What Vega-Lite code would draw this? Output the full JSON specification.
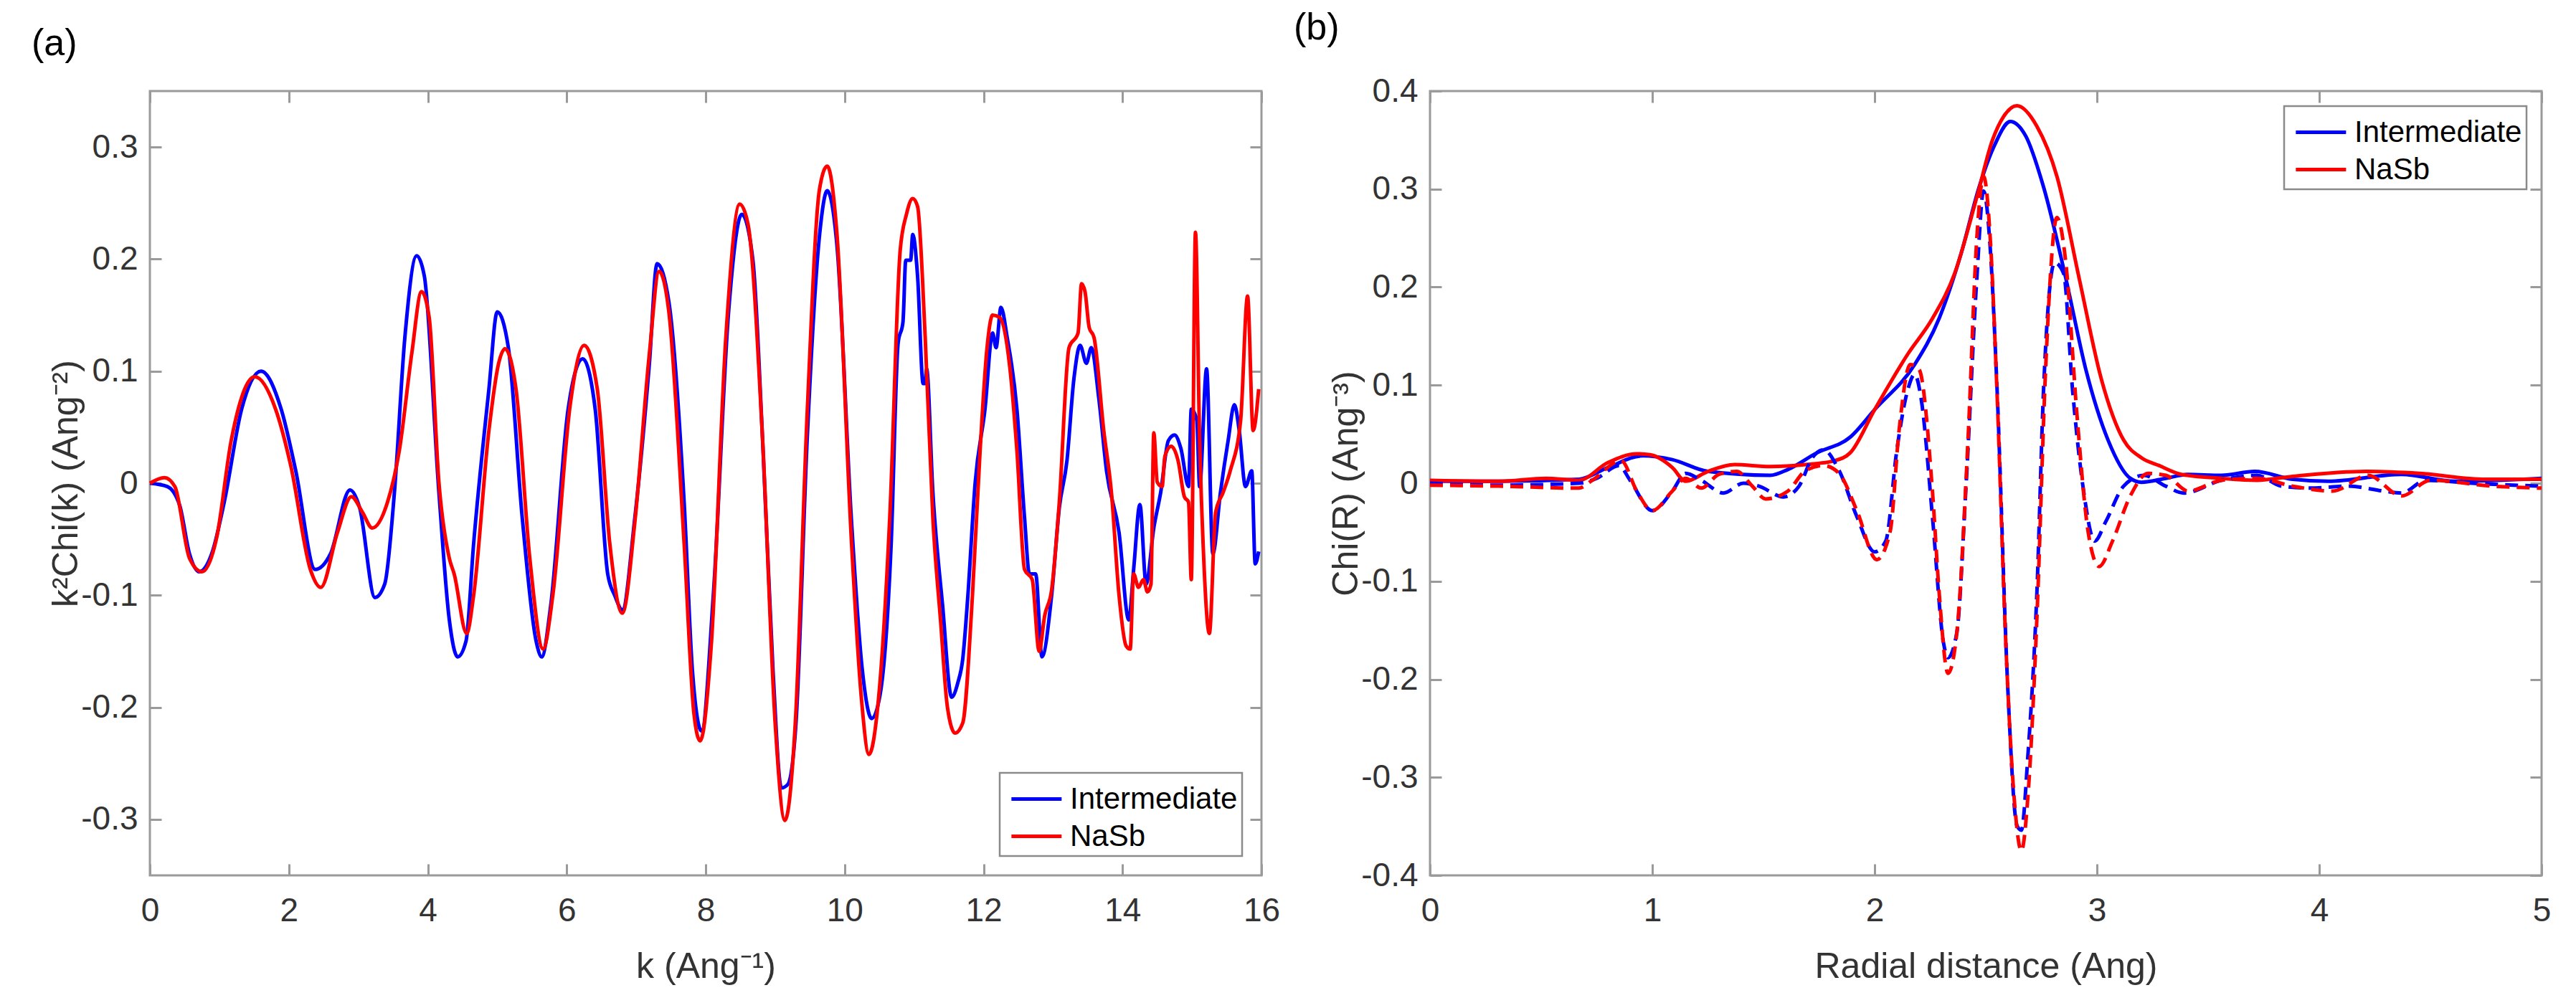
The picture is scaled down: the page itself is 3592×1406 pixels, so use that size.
{
  "$schema": "https://vega.github.io/schema/vega-lite/v6.json",
  "padding": {"left": 42, "top": 11, "right": 0, "bottom": 0},
  "background": "white",
  "bounds": "flush",
  "spacing": 235,
  "config": {
    "font": "Liberation Sans",
    "view": {"stroke": "#9a9a9a", "strokeWidth": 3},
    "axis": {
      "domain": false, "grid": false, "ticks": true, "tickSize": -16, "tickColor": "#9a9a9a", "tickWidth": 3,
      "labelFontSize": 46, "labelColor": "#333333", "labelFont": "Liberation Sans", "labelOverlap": false, "labelFlush": false,
      "titleFontSize": 50, "titleColor": "#333333", "titleFont": "Liberation Sans", "titleFontWeight": "normal"
    },
    "axisX": {"labelPadding": 43, "titlePadding": 30},
    "axisY": {"labelPadding": 33, "titlePadding": -5},
    "title": {"fontSize": 52, "font": "Liberation Sans", "fontWeight": "normal", "color": "#000000", "anchor": "start", "frame": "group", "baseline": "alphabetic", "offset": 38},
    "legend": {"labelFontSize": 42, "labelColor": "#000000", "labelFont": "Liberation Sans", "labelLimit": 400, "strokeColor": "#8a8a8a", "fillColor": "#ffffff", "strokeWidth": 2.5}
  },
  "datasets": {
    "kdata": [
      {"k":0,"v":0,"s":"Intermediate"},{"k":0.25,"v":-0.003,"s":"Intermediate"},{"k":0.43,"v":-0.02,"s":"Intermediate"},{"k":0.57,"v":-0.063,"s":"Intermediate"},{"k":0.71,"v":-0.079,"s":"Intermediate"},{"k":0.89,"v":-0.063,"s":"Intermediate"},{"k":1.07,"v":-0.017,"s":"Intermediate"},{"k":1.32,"v":0.066,"s":"Intermediate"},{"k":1.6,"v":0.1,"s":"Intermediate"},{"k":1.89,"v":0.066,"s":"Intermediate"},{"k":2.1,"v":0.011,"s":"Intermediate"},{"k":2.38,"v":-0.077,"s":"Intermediate"},{"k":2.6,"v":-0.063,"s":"Intermediate"},{"k":2.88,"v":-0.006,"s":"Intermediate"},{"k":3.02,"v":-0.022,"s":"Intermediate"},{"k":3.24,"v":-0.102,"s":"Intermediate"},{"k":3.38,"v":-0.09,"s":"Intermediate"},{"k":3.52,"v":-0.008,"s":"Intermediate"},{"k":3.67,"v":0.13,"s":"Intermediate"},{"k":3.84,"v":0.203,"s":"Intermediate"},{"k":3.95,"v":0.185,"s":"Intermediate"},{"k":4.16,"v":-0.008,"s":"Intermediate"},{"k":4.31,"v":-0.122,"s":"Intermediate"},{"k":4.43,"v":-0.155,"s":"Intermediate"},{"k":4.55,"v":-0.141,"s":"Intermediate"},{"k":4.66,"v":-0.054,"s":"Intermediate"},{"k":4.88,"v":0.084,"s":"Intermediate"},{"k":5.0,"v":0.153,"s":"Intermediate"},{"k":5.16,"v":0.121,"s":"Intermediate"},{"k":5.36,"v":-0.031,"s":"Intermediate"},{"k":5.56,"v":-0.141,"s":"Intermediate"},{"k":5.64,"v":-0.155,"s":"Intermediate"},{"k":5.77,"v":-0.109,"s":"Intermediate"},{"k":6.02,"v":0.066,"s":"Intermediate"},{"k":6.23,"v":0.111,"s":"Intermediate"},{"k":6.41,"v":0.066,"s":"Intermediate"},{"k":6.59,"v":-0.081,"s":"Intermediate"},{"k":6.69,"v":-0.1,"s":"Intermediate"},{"k":6.8,"v":-0.113,"s":"Intermediate"},{"k":6.98,"v":-0.031,"s":"Intermediate"},{"k":7.19,"v":0.107,"s":"Intermediate"},{"k":7.3,"v":0.196,"s":"Intermediate"},{"k":7.47,"v":0.162,"s":"Intermediate"},{"k":7.69,"v":-0.017,"s":"Intermediate"},{"k":7.81,"v":-0.168,"s":"Intermediate"},{"k":7.94,"v":-0.221,"s":"Intermediate"},{"k":8.11,"v":-0.1,"s":"Intermediate"},{"k":8.33,"v":0.153,"s":"Intermediate"},{"k":8.52,"v":0.24,"s":"Intermediate"},{"k":8.68,"v":0.199,"s":"Intermediate"},{"k":8.82,"v":0.038,"s":"Intermediate"},{"k":8.97,"v":-0.168,"s":"Intermediate"},{"k":9.09,"v":-0.272,"s":"Intermediate"},{"k":9.18,"v":-0.269,"s":"Intermediate"},{"k":9.3,"v":-0.214,"s":"Intermediate"},{"k":9.46,"v":0.038,"s":"Intermediate"},{"k":9.64,"v":0.222,"s":"Intermediate"},{"k":9.75,"v":0.261,"s":"Intermediate"},{"k":9.89,"v":0.212,"s":"Intermediate"},{"k":10.1,"v":-0.035,"s":"Intermediate"},{"k":10.25,"v":-0.164,"s":"Intermediate"},{"k":10.39,"v":-0.21,"s":"Intermediate"},{"k":10.51,"v":-0.189,"s":"Intermediate"},{"k":10.67,"v":-0.054,"s":"Intermediate"},{"k":10.77,"v":0.125,"s":"Intermediate"},{"k":10.84,"v":0.144,"s":"Intermediate"},{"k":10.88,"v":0.199,"s":"Intermediate"},{"k":10.95,"v":0.199,"s":"Intermediate"},{"k":10.98,"v":0.222,"s":"Intermediate"},{"k":11.05,"v":0.185,"s":"Intermediate"},{"k":11.13,"v":0.089,"s":"Intermediate"},{"k":11.16,"v":0.089,"s":"Intermediate"},{"k":11.18,"v":0.102,"s":"Intermediate"},{"k":11.27,"v":-0.008,"s":"Intermediate"},{"k":11.41,"v":-0.109,"s":"Intermediate"},{"k":11.54,"v":-0.191,"s":"Intermediate"},{"k":11.63,"v":-0.178,"s":"Intermediate"},{"k":11.7,"v":-0.157,"s":"Intermediate"},{"k":11.77,"v":-0.104,"s":"Intermediate"},{"k":11.88,"v":0.001,"s":"Intermediate"},{"k":12.02,"v":0.066,"s":"Intermediate"},{"k":12.13,"v":0.134,"s":"Intermediate"},{"k":12.18,"v":0.121,"s":"Intermediate"},{"k":12.25,"v":0.157,"s":"Intermediate"},{"k":12.34,"v":0.13,"s":"Intermediate"},{"k":12.48,"v":0.066,"s":"Intermediate"},{"k":12.59,"v":-0.031,"s":"Intermediate"},{"k":12.66,"v":-0.081,"s":"Intermediate"},{"k":12.75,"v":-0.081,"s":"Intermediate"},{"k":12.84,"v":-0.155,"s":"Intermediate"},{"k":12.98,"v":-0.1,"s":"Intermediate"},{"k":13.09,"v":-0.022,"s":"Intermediate"},{"k":13.2,"v":0.02,"s":"Intermediate"},{"k":13.3,"v":0.093,"s":"Intermediate"},{"k":13.39,"v":0.123,"s":"Intermediate"},{"k":13.48,"v":0.107,"s":"Intermediate"},{"k":13.55,"v":0.121,"s":"Intermediate"},{"k":13.66,"v":0.075,"s":"Intermediate"},{"k":13.77,"v":0.011,"s":"Intermediate"},{"k":13.95,"v":-0.044,"s":"Intermediate"},{"k":14.09,"v":-0.122,"s":"Intermediate"},{"k":14.16,"v":-0.077,"s":"Intermediate"},{"k":14.25,"v":-0.019,"s":"Intermediate"},{"k":14.34,"v":-0.09,"s":"Intermediate"},{"k":14.45,"v":-0.04,"s":"Intermediate"},{"k":14.55,"v":-0.008,"s":"Intermediate"},{"k":14.66,"v":0.038,"s":"Intermediate"},{"k":14.75,"v":0.043,"s":"Intermediate"},{"k":14.84,"v":0.031,"s":"Intermediate"},{"k":14.95,"v":-0.003,"s":"Intermediate"},{"k":14.99,"v":0.066,"s":"Intermediate"},{"k":15.07,"v":0.056,"s":"Intermediate"},{"k":15.11,"v":-0.003,"s":"Intermediate"},{"k":15.21,"v":0.102,"s":"Intermediate"},{"k":15.3,"v":-0.063,"s":"Intermediate"},{"k":15.41,"v":-0.008,"s":"Intermediate"},{"k":15.52,"v":0.038,"s":"Intermediate"},{"k":15.61,"v":0.07,"s":"Intermediate"},{"k":15.68,"v":0.047,"s":"Intermediate"},{"k":15.77,"v":-0.003,"s":"Intermediate"},{"k":15.86,"v":0.011,"s":"Intermediate"},{"k":15.91,"v":-0.072,"s":"Intermediate"},{"k":15.96,"v":-0.061,"s":"Intermediate"},
      {"k":0,"v":0,"s":"NaSb"},{"k":0.21,"v":0.005,"s":"NaSb"},{"k":0.36,"v":-0.003,"s":"NaSb"},{"k":0.57,"v":-0.067,"s":"NaSb"},{"k":0.75,"v":-0.079,"s":"NaSb"},{"k":0.96,"v":-0.049,"s":"NaSb"},{"k":1.17,"v":0.038,"s":"NaSb"},{"k":1.51,"v":0.095,"s":"NaSb"},{"k":1.81,"v":0.066,"s":"NaSb"},{"k":2.03,"v":0.015,"s":"NaSb"},{"k":2.31,"v":-0.077,"s":"NaSb"},{"k":2.46,"v":-0.093,"s":"NaSb"},{"k":2.7,"v":-0.044,"s":"NaSb"},{"k":2.9,"v":-0.012,"s":"NaSb"},{"k":3.06,"v":-0.026,"s":"NaSb"},{"k":3.2,"v":-0.04,"s":"NaSb"},{"k":3.42,"v":-0.017,"s":"NaSb"},{"k":3.59,"v":0.029,"s":"NaSb"},{"k":3.77,"v":0.116,"s":"NaSb"},{"k":3.91,"v":0.171,"s":"NaSb"},{"k":4.02,"v":0.148,"s":"NaSb"},{"k":4.16,"v":0.001,"s":"NaSb"},{"k":4.31,"v":-0.067,"s":"NaSb"},{"k":4.38,"v":-0.081,"s":"NaSb"},{"k":4.56,"v":-0.134,"s":"NaSb"},{"k":4.66,"v":-0.1,"s":"NaSb"},{"k":4.88,"v":0.047,"s":"NaSb"},{"k":5.02,"v":0.107,"s":"NaSb"},{"k":5.11,"v":0.12,"s":"NaSb"},{"k":5.27,"v":0.084,"s":"NaSb"},{"k":5.47,"v":-0.068,"s":"NaSb"},{"k":5.66,"v":-0.148,"s":"NaSb"},{"k":5.8,"v":-0.1,"s":"NaSb"},{"k":6.05,"v":0.07,"s":"NaSb"},{"k":6.25,"v":0.123,"s":"NaSb"},{"k":6.44,"v":0.084,"s":"NaSb"},{"k":6.62,"v":-0.054,"s":"NaSb"},{"k":6.8,"v":-0.116,"s":"NaSb"},{"k":6.98,"v":-0.035,"s":"NaSb"},{"k":7.19,"v":0.116,"s":"NaSb"},{"k":7.33,"v":0.189,"s":"NaSb"},{"k":7.47,"v":0.153,"s":"NaSb"},{"k":7.69,"v":-0.054,"s":"NaSb"},{"k":7.83,"v":-0.205,"s":"NaSb"},{"k":7.92,"v":-0.23,"s":"NaSb"},{"k":8.08,"v":-0.145,"s":"NaSb"},{"k":8.29,"v":0.13,"s":"NaSb"},{"k":8.49,"v":0.249,"s":"NaSb"},{"k":8.61,"v":0.231,"s":"NaSb"},{"k":8.82,"v":0.038,"s":"NaSb"},{"k":9.0,"v":-0.214,"s":"NaSb"},{"k":9.14,"v":-0.301,"s":"NaSb"},{"k":9.29,"v":-0.214,"s":"NaSb"},{"k":9.46,"v":0.061,"s":"NaSb"},{"k":9.64,"v":0.263,"s":"NaSb"},{"k":9.75,"v":0.283,"s":"NaSb"},{"k":9.89,"v":0.222,"s":"NaSb"},{"k":10.1,"v":-0.054,"s":"NaSb"},{"k":10.24,"v":-0.191,"s":"NaSb"},{"k":10.35,"v":-0.242,"s":"NaSb"},{"k":10.49,"v":-0.191,"s":"NaSb"},{"k":10.65,"v":-0.03,"s":"NaSb"},{"k":10.8,"v":0.208,"s":"NaSb"},{"k":10.89,"v":0.24,"s":"NaSb"},{"k":10.98,"v":0.254,"s":"NaSb"},{"k":11.05,"v":0.247,"s":"NaSb"},{"k":11.16,"v":0.13,"s":"NaSb"},{"k":11.27,"v":-0.031,"s":"NaSb"},{"k":11.38,"v":-0.122,"s":"NaSb"},{"k":11.48,"v":-0.2,"s":"NaSb"},{"k":11.59,"v":-0.223,"s":"NaSb"},{"k":11.7,"v":-0.214,"s":"NaSb"},{"k":11.84,"v":-0.1,"s":"NaSb"},{"k":11.95,"v":0.029,"s":"NaSb"},{"k":12.05,"v":0.121,"s":"NaSb"},{"k":12.13,"v":0.15,"s":"NaSb"},{"k":12.23,"v":0.148,"s":"NaSb"},{"k":12.38,"v":0.102,"s":"NaSb"},{"k":12.48,"v":0.029,"s":"NaSb"},{"k":12.59,"v":-0.077,"s":"NaSb"},{"k":12.7,"v":-0.086,"s":"NaSb"},{"k":12.8,"v":-0.15,"s":"NaSb"},{"k":12.88,"v":-0.118,"s":"NaSb"},{"k":12.98,"v":-0.095,"s":"NaSb"},{"k":13.09,"v":-0.017,"s":"NaSb"},{"k":13.23,"v":0.121,"s":"NaSb"},{"k":13.36,"v":0.134,"s":"NaSb"},{"k":13.41,"v":0.178,"s":"NaSb"},{"k":13.46,"v":0.171,"s":"NaSb"},{"k":13.52,"v":0.139,"s":"NaSb"},{"k":13.59,"v":0.13,"s":"NaSb"},{"k":13.73,"v":0.047,"s":"NaSb"},{"k":13.84,"v":-0.008,"s":"NaSb"},{"k":13.95,"v":-0.1,"s":"NaSb"},{"k":14.05,"v":-0.145,"s":"NaSb"},{"k":14.11,"v":-0.148,"s":"NaSb"},{"k":14.16,"v":-0.081,"s":"NaSb"},{"k":14.23,"v":-0.093,"s":"NaSb"},{"k":14.3,"v":-0.086,"s":"NaSb"},{"k":14.36,"v":-0.097,"s":"NaSb"},{"k":14.41,"v":-0.09,"s":"NaSb"},{"k":14.45,"v":0.045,"s":"NaSb"},{"k":14.5,"v":0.001,"s":"NaSb"},{"k":14.57,"v":-0.003,"s":"NaSb"},{"k":14.61,"v":0.024,"s":"NaSb"},{"k":14.7,"v":0.033,"s":"NaSb"},{"k":14.8,"v":0.02,"s":"NaSb"},{"k":14.89,"v":-0.012,"s":"NaSb"},{"k":14.95,"v":-0.017,"s":"NaSb"},{"k":14.99,"v":-0.086,"s":"NaSb"},{"k":15.05,"v":0.224,"s":"NaSb"},{"k":15.11,"v":0.038,"s":"NaSb"},{"k":15.16,"v":-0.054,"s":"NaSb"},{"k":15.25,"v":-0.134,"s":"NaSb"},{"k":15.34,"v":-0.026,"s":"NaSb"},{"k":15.45,"v":-0.008,"s":"NaSb"},{"k":15.55,"v":0.011,"s":"NaSb"},{"k":15.7,"v":0.056,"s":"NaSb"},{"k":15.8,"v":0.167,"s":"NaSb"},{"k":15.88,"v":0.047,"s":"NaSb"},{"k":15.96,"v":0.084,"s":"NaSb"}
    ],
    "rdata": [
      {"r":0,"v":0.002,"s":"Intermediate","p":"mag"},{"r":0.31,"v":0.002,"s":"Intermediate","p":"mag"},{"r":0.67,"v":0.004,"s":"Intermediate","p":"mag"},{"r":0.8,"v":0.016,"s":"Intermediate","p":"mag"},{"r":0.96,"v":0.028,"s":"Intermediate","p":"mag"},{"r":1.09,"v":0.024,"s":"Intermediate","p":"mag"},{"r":1.25,"v":0.012,"s":"Intermediate","p":"mag"},{"r":1.53,"v":0.008,"s":"Intermediate","p":"mag"},{"r":1.61,"v":0.014,"s":"Intermediate","p":"mag"},{"r":1.74,"v":0.031,"s":"Intermediate","p":"mag"},{"r":1.89,"v":0.047,"s":"Intermediate","p":"mag"},{"r":2.0,"v":0.075,"s":"Intermediate","p":"mag"},{"r":2.18,"v":0.121,"s":"Intermediate","p":"mag"},{"r":2.29,"v":0.168,"s":"Intermediate","p":"mag"},{"r":2.39,"v":0.235,"s":"Intermediate","p":"mag"},{"r":2.47,"v":0.302,"s":"Intermediate","p":"mag"},{"r":2.54,"v":0.345,"s":"Intermediate","p":"mag"},{"r":2.61,"v":0.369,"s":"Intermediate","p":"mag"},{"r":2.68,"v":0.354,"s":"Intermediate","p":"mag"},{"r":2.76,"v":0.302,"s":"Intermediate","p":"mag"},{"r":2.86,"v":0.209,"s":"Intermediate","p":"mag"},{"r":2.95,"v":0.116,"s":"Intermediate","p":"mag"},{"r":3.05,"v":0.044,"s":"Intermediate","p":"mag"},{"r":3.15,"v":0.005,"s":"Intermediate","p":"mag"},{"r":3.2,"v":0.001,"s":"Intermediate","p":"mag"},{"r":3.31,"v":0.005,"s":"Intermediate","p":"mag"},{"r":3.41,"v":0.009,"s":"Intermediate","p":"mag"},{"r":3.56,"v":0.008,"s":"Intermediate","p":"mag"},{"r":3.71,"v":0.012,"s":"Intermediate","p":"mag"},{"r":3.88,"v":0.004,"s":"Intermediate","p":"mag"},{"r":4.04,"v":0.002,"s":"Intermediate","p":"mag"},{"r":4.37,"v":0.009,"s":"Intermediate","p":"mag"},{"r":4.61,"v":0.002,"s":"Intermediate","p":"mag"},{"r":5.0,"v":0.005,"s":"Intermediate","p":"mag"},
      {"r":0,"v":0.003,"s":"NaSb","p":"mag"},{"r":0.31,"v":0.002,"s":"NaSb","p":"mag"},{"r":0.52,"v":0.005,"s":"NaSb","p":"mag"},{"r":0.67,"v":0.003,"s":"NaSb","p":"mag"},{"r":0.8,"v":0.021,"s":"NaSb","p":"mag"},{"r":0.93,"v":0.03,"s":"NaSb","p":"mag"},{"r":0.99,"v":0.029,"s":"NaSb","p":"mag"},{"r":1.09,"v":0.016,"s":"NaSb","p":"mag"},{"r":1.15,"v":0.002,"s":"NaSb","p":"mag"},{"r":1.25,"v":0.012,"s":"NaSb","p":"mag"},{"r":1.37,"v":0.019,"s":"NaSb","p":"mag"},{"r":1.53,"v":0.017,"s":"NaSb","p":"mag"},{"r":1.69,"v":0.019,"s":"NaSb","p":"mag"},{"r":1.82,"v":0.023,"s":"NaSb","p":"mag"},{"r":1.89,"v":0.031,"s":"NaSb","p":"mag"},{"r":2.0,"v":0.075,"s":"NaSb","p":"mag"},{"r":2.15,"v":0.132,"s":"NaSb","p":"mag"},{"r":2.26,"v":0.168,"s":"NaSb","p":"mag"},{"r":2.36,"v":0.214,"s":"NaSb","p":"mag"},{"r":2.46,"v":0.292,"s":"NaSb","p":"mag"},{"r":2.53,"v":0.35,"s":"NaSb","p":"mag"},{"r":2.58,"v":0.374,"s":"NaSb","p":"mag"},{"r":2.64,"v":0.385,"s":"NaSb","p":"mag"},{"r":2.73,"v":0.364,"s":"NaSb","p":"mag"},{"r":2.82,"v":0.313,"s":"NaSb","p":"mag"},{"r":2.92,"v":0.209,"s":"NaSb","p":"mag"},{"r":3.02,"v":0.106,"s":"NaSb","p":"mag"},{"r":3.12,"v":0.044,"s":"NaSb","p":"mag"},{"r":3.2,"v":0.026,"s":"NaSb","p":"mag"},{"r":3.28,"v":0.018,"s":"NaSb","p":"mag"},{"r":3.38,"v":0.009,"s":"NaSb","p":"mag"},{"r":3.56,"v":0.005,"s":"NaSb","p":"mag"},{"r":3.72,"v":0.003,"s":"NaSb","p":"mag"},{"r":3.88,"v":0.007,"s":"NaSb","p":"mag"},{"r":4.21,"v":0.012,"s":"NaSb","p":"mag"},{"r":4.45,"v":0.01,"s":"NaSb","p":"mag"},{"r":4.75,"v":0.004,"s":"NaSb","p":"mag"},{"r":5.0,"v":0.004,"s":"NaSb","p":"mag"},
      {"r":0,"v":0,"s":"Intermediate","p":"re"},{"r":0.31,"v":-0.002,"s":"Intermediate","p":"re"},{"r":0.67,"v":0,"s":"Intermediate","p":"re"},{"r":0.75,"v":0.005,"s":"Intermediate","p":"re"},{"r":0.85,"v":0.018,"s":"Intermediate","p":"re"},{"r":0.9,"v":0.003,"s":"Intermediate","p":"re"},{"r":1.0,"v":-0.028,"s":"Intermediate","p":"re"},{"r":1.09,"v":-0.008,"s":"Intermediate","p":"re"},{"r":1.15,"v":0.01,"s":"Intermediate","p":"re"},{"r":1.22,"v":0.003,"s":"Intermediate","p":"re"},{"r":1.32,"v":-0.01,"s":"Intermediate","p":"re"},{"r":1.41,"v":0,"s":"Intermediate","p":"re"},{"r":1.48,"v":-0.003,"s":"Intermediate","p":"re"},{"r":1.59,"v":-0.014,"s":"Intermediate","p":"re"},{"r":1.66,"v":-0.003,"s":"Intermediate","p":"re"},{"r":1.72,"v":0.026,"s":"Intermediate","p":"re"},{"r":1.77,"v":0.034,"s":"Intermediate","p":"re"},{"r":1.84,"v":0.013,"s":"Intermediate","p":"re"},{"r":1.92,"v":-0.034,"s":"Intermediate","p":"re"},{"r":2.0,"v":-0.07,"s":"Intermediate","p":"re"},{"r":2.05,"v":-0.059,"s":"Intermediate","p":"re"},{"r":2.1,"v":0.034,"s":"Intermediate","p":"re"},{"r":2.15,"v":0.096,"s":"Intermediate","p":"re"},{"r":2.18,"v":0.111,"s":"Intermediate","p":"re"},{"r":2.21,"v":0.085,"s":"Intermediate","p":"re"},{"r":2.26,"v":-0.034,"s":"Intermediate","p":"re"},{"r":2.31,"v":-0.163,"s":"Intermediate","p":"re"},{"r":2.33,"v":-0.178,"s":"Intermediate","p":"re"},{"r":2.37,"v":-0.152,"s":"Intermediate","p":"re"},{"r":2.41,"v":-0.008,"s":"Intermediate","p":"re"},{"r":2.46,"v":0.21,"s":"Intermediate","p":"re"},{"r":2.49,"v":0.298,"s":"Intermediate","p":"re"},{"r":2.52,"v":0.24,"s":"Intermediate","p":"re"},{"r":2.55,"v":0.1,"s":"Intermediate","p":"re"},{"r":2.6,"v":-0.214,"s":"Intermediate","p":"re"},{"r":2.64,"v":-0.349,"s":"Intermediate","p":"re"},{"r":2.66,"v":-0.354,"s":"Intermediate","p":"re"},{"r":2.69,"v":-0.276,"s":"Intermediate","p":"re"},{"r":2.73,"v":-0.111,"s":"Intermediate","p":"re"},{"r":2.76,"v":0.096,"s":"Intermediate","p":"re"},{"r":2.81,"v":0.225,"s":"Intermediate","p":"re"},{"r":2.85,"v":0.214,"s":"Intermediate","p":"re"},{"r":2.89,"v":0.096,"s":"Intermediate","p":"re"},{"r":2.94,"v":-0.008,"s":"Intermediate","p":"re"},{"r":2.99,"v":-0.059,"s":"Intermediate","p":"re"},{"r":3.04,"v":-0.039,"s":"Intermediate","p":"re"},{"r":3.12,"v":-0.003,"s":"Intermediate","p":"re"},{"r":3.21,"v":0.008,"s":"Intermediate","p":"re"},{"r":3.31,"v":-0.003,"s":"Intermediate","p":"re"},{"r":3.39,"v":-0.01,"s":"Intermediate","p":"re"},{"r":3.56,"v":0.003,"s":"Intermediate","p":"re"},{"r":3.72,"v":0.008,"s":"Intermediate","p":"re"},{"r":3.83,"v":-0.003,"s":"Intermediate","p":"re"},{"r":3.96,"v":-0.005,"s":"Intermediate","p":"re"},{"r":4.13,"v":-0.003,"s":"Intermediate","p":"re"},{"r":4.29,"v":-0.008,"s":"Intermediate","p":"re"},{"r":4.37,"v":-0.01,"s":"Intermediate","p":"re"},{"r":4.48,"v":0.003,"s":"Intermediate","p":"re"},{"r":4.69,"v":0,"s":"Intermediate","p":"re"},{"r":5.0,"v":-0.003,"s":"Intermediate","p":"re"},
      {"r":0,"v":-0.002,"s":"NaSb","p":"re"},{"r":0.31,"v":-0.003,"s":"NaSb","p":"re"},{"r":0.67,"v":-0.005,"s":"NaSb","p":"re"},{"r":0.73,"v":0.003,"s":"NaSb","p":"re"},{"r":0.86,"v":0.023,"s":"NaSb","p":"re"},{"r":0.93,"v":-0.008,"s":"NaSb","p":"re"},{"r":1.0,"v":-0.028,"s":"NaSb","p":"re"},{"r":1.09,"v":-0.008,"s":"NaSb","p":"re"},{"r":1.15,"v":0.005,"s":"NaSb","p":"re"},{"r":1.22,"v":-0.005,"s":"NaSb","p":"re"},{"r":1.3,"v":0.009,"s":"NaSb","p":"re"},{"r":1.38,"v":0.012,"s":"NaSb","p":"re"},{"r":1.45,"v":-0.003,"s":"NaSb","p":"re"},{"r":1.51,"v":-0.016,"s":"NaSb","p":"re"},{"r":1.61,"v":-0.008,"s":"NaSb","p":"re"},{"r":1.69,"v":0.013,"s":"NaSb","p":"re"},{"r":1.77,"v":0.018,"s":"NaSb","p":"re"},{"r":1.84,"v":0.01,"s":"NaSb","p":"re"},{"r":1.92,"v":-0.028,"s":"NaSb","p":"re"},{"r":2.01,"v":-0.078,"s":"NaSb","p":"re"},{"r":2.07,"v":-0.049,"s":"NaSb","p":"re"},{"r":2.11,"v":0.054,"s":"NaSb","p":"re"},{"r":2.16,"v":0.121,"s":"NaSb","p":"re"},{"r":2.2,"v":0.116,"s":"NaSb","p":"re"},{"r":2.26,"v":-0.008,"s":"NaSb","p":"re"},{"r":2.29,"v":-0.111,"s":"NaSb","p":"re"},{"r":2.33,"v":-0.194,"s":"NaSb","p":"re"},{"r":2.37,"v":-0.152,"s":"NaSb","p":"re"},{"r":2.42,"v":0.044,"s":"NaSb","p":"re"},{"r":2.46,"v":0.251,"s":"NaSb","p":"re"},{"r":2.49,"v":0.313,"s":"NaSb","p":"re"},{"r":2.52,"v":0.25,"s":"NaSb","p":"re"},{"r":2.55,"v":0.096,"s":"NaSb","p":"re"},{"r":2.59,"v":-0.163,"s":"NaSb","p":"re"},{"r":2.63,"v":-0.328,"s":"NaSb","p":"re"},{"r":2.66,"v":-0.375,"s":"NaSb","p":"re"},{"r":2.69,"v":-0.318,"s":"NaSb","p":"re"},{"r":2.73,"v":-0.137,"s":"NaSb","p":"re"},{"r":2.77,"v":0.121,"s":"NaSb","p":"re"},{"r":2.82,"v":0.271,"s":"NaSb","p":"re"},{"r":2.86,"v":0.225,"s":"NaSb","p":"re"},{"r":2.91,"v":0.07,"s":"NaSb","p":"re"},{"r":2.96,"v":-0.049,"s":"NaSb","p":"re"},{"r":3.01,"v":-0.085,"s":"NaSb","p":"re"},{"r":3.07,"v":-0.059,"s":"NaSb","p":"re"},{"r":3.15,"v":-0.013,"s":"NaSb","p":"re"},{"r":3.23,"v":0.01,"s":"NaSb","p":"re"},{"r":3.31,"v":0.008,"s":"NaSb","p":"re"},{"r":3.41,"v":-0.008,"s":"NaSb","p":"re"},{"r":3.56,"v":0.003,"s":"NaSb","p":"re"},{"r":3.72,"v":0.005,"s":"NaSb","p":"re"},{"r":3.88,"v":-0.003,"s":"NaSb","p":"re"},{"r":4.06,"v":-0.008,"s":"NaSb","p":"re"},{"r":4.22,"v":0.008,"s":"NaSb","p":"re"},{"r":4.37,"v":-0.013,"s":"NaSb","p":"re"},{"r":4.5,"v":0.003,"s":"NaSb","p":"re"},{"r":4.78,"v":-0.003,"s":"NaSb","p":"re"},{"r":5.0,"v":-0.005,"s":"NaSb","p":"re"}
    ]
  },
  "hconcat": [
    {
      "width": 1550,
      "height": 1094,
      "title": {"text": "(a)", "dx": -165},
      "data": {"name": "kdata"},
      "resolve": {"axis": {"x": "independent", "y": "independent"}},
      "layer": [
        {
          "transform": [{"filter": "datum.s === 'Intermediate'"}],
          "mark": {"type": "line", "strokeWidth": 5, "interpolate": "monotone"},
          "encoding": {
            "x": {"field": "k", "type": "quantitative", "scale": {"domain": [0, 16], "nice": false, "zero": false},
                  "axis": {"orient": "bottom", "title": "k (Ang⁻¹)", "values": [0, 2, 4, 6, 8, 10, 12, 14, 16], "labelExpr": "toString(datum.value)"}},
            "y": {"field": "v", "type": "quantitative", "scale": {"domain": [-0.35, 0.35], "nice": false, "zero": false},
                  "axis": {"orient": "left", "title": "k²Chi(k) (Ang⁻²)", "values": [-0.3, -0.2, -0.1, 0, 0.1, 0.2, 0.3], "labelExpr": "toString(datum.value)"}},
            "color": {"field": "s", "type": "nominal", "scale": {"domain": ["Intermediate", "NaSb"], "range": ["#0000ff", "#ff0000"]},
                      "legend": {"title": null, "orient": "bottom-right", "offset": 27, "symbolType": "M-0.72,0H1.78", "symbolSize": 3136, "symbolStrokeWidth": 5, "labelOffset": 31, "padding": 6, "rowPadding": 0, "labelFontSize": 42, "labelLimit": 400}}
          }
        },
        {
          "transform": [{"filter": "datum.s === 'NaSb'"}],
          "mark": {"type": "line", "strokeWidth": 5, "interpolate": "monotone"},
          "encoding": {
            "x": {"field": "k", "type": "quantitative",
                  "axis": {"orient": "top", "title": null, "labels": false, "values": [0, 2, 4, 6, 8, 10, 12, 14, 16]}},
            "y": {"field": "v", "type": "quantitative",
                  "axis": {"orient": "right", "title": null, "labels": false, "values": [-0.3, -0.2, -0.1, 0, 0.1, 0.2, 0.3]}},
            "color": {"field": "s", "type": "nominal",
                      "legend": {"title": null, "orient": "bottom-right", "offset": 27, "symbolType": "M-0.72,0H1.78", "symbolSize": 3136, "symbolStrokeWidth": 5, "labelOffset": 31, "padding": 6, "rowPadding": 0, "labelFontSize": 42, "labelLimit": 400}}
          }
        }
      ]
    },
    {
      "width": 1550,
      "height": 1094,
      "title": {"text": "(b)", "dx": -190},
      "data": {"name": "rdata"},
      "resolve": {"axis": {"x": "independent", "y": "independent"}},
      "layer": [
        {
          "transform": [{"filter": "datum.p === 'mag'"}],
          "mark": {"type": "line", "strokeWidth": 5, "interpolate": "monotone"},
          "encoding": {
            "x": {"field": "r", "type": "quantitative", "scale": {"domain": [0, 5], "nice": false, "zero": false},
                  "axis": {"orient": "bottom", "title": "Radial distance (Ang)", "values": [0, 1, 2, 3, 4, 5], "labelExpr": "toString(datum.value)"}},
            "y": {"field": "v", "type": "quantitative", "scale": {"domain": [-0.4, 0.4], "nice": false, "zero": false},
                  "axis": {"orient": "left", "title": "Chi(R) (Ang⁻³)", "values": [-0.4, -0.3, -0.2, -0.1, 0, 0.1, 0.2, 0.3, 0.4], "labelExpr": "toString(datum.value)"}},
            "color": {"field": "s", "type": "nominal", "scale": {"domain": ["Intermediate", "NaSb"], "range": ["#0000ff", "#ff0000"]},
                      "legend": {"title": null, "orient": "top-right", "offset": 21, "symbolType": "M-0.72,0H1.78", "symbolSize": 3136, "symbolStrokeWidth": 5, "symbolDash": [], "labelOffset": 31, "padding": 6, "rowPadding": 0, "labelFontSize": 42, "labelLimit": 400}}
          }
        },
        {
          "transform": [{"filter": "datum.p === 're'"}],
          "mark": {"type": "line", "strokeWidth": 5, "interpolate": "monotone", "strokeDash": [18, 10]},
          "encoding": {
            "x": {"field": "r", "type": "quantitative",
                  "axis": {"orient": "top", "title": null, "labels": false, "values": [0, 1, 2, 3, 4, 5]}},
            "y": {"field": "v", "type": "quantitative",
                  "axis": {"orient": "right", "title": null, "labels": false, "values": [-0.4, -0.3, -0.2, -0.1, 0, 0.1, 0.2, 0.3, 0.4]}},
            "color": {"field": "s", "type": "nominal",
                      "legend": {"title": null, "orient": "top-right", "offset": 21, "symbolType": "M-0.72,0H1.78", "symbolSize": 3136, "symbolStrokeWidth": 5, "symbolDash": [], "labelOffset": 31, "padding": 6, "rowPadding": 0, "labelFontSize": 42, "labelLimit": 400}}
          }
        }
      ]
    }
  ]
}
